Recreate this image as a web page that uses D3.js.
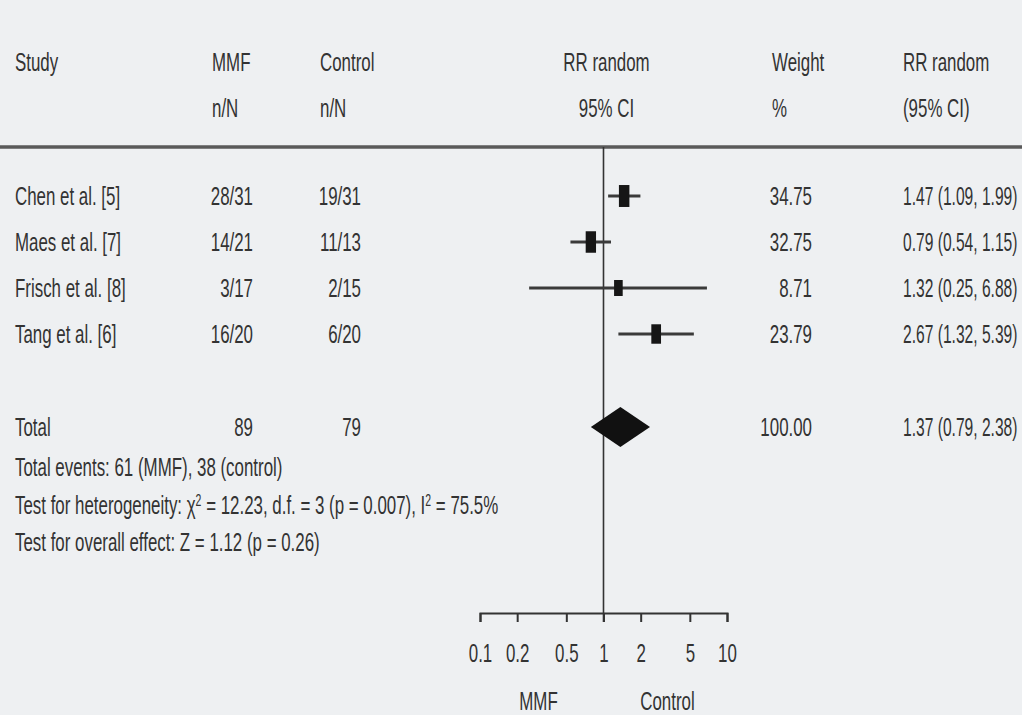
<!DOCTYPE html>
<html>
<head>
<meta charset="utf-8">
<script src="https://cdn.jsdelivr.net/npm/d3@7/dist/d3.min.js"></script>
<style>
  html, body { margin: 0; padding: 0; background: #eef0f2; }
  svg { display: block; }
  text { font-family: "Liberation Sans Narrow", "Liberation Sans", Arial, sans-serif; fill: #333; }
</style>
</head>
<body>
<svg id="chart" width="1022" height="715"></svg>
<script>
// ---------------- data ----------------
const studies   = ["Chen et al. [5]", "Maes et al. [7]", "Frisch et al. [8]", "Tang et al. [6]"];
const mmfNN     = ["28/31", "14/21", "3/17", "16/20"];
const controlNN = ["19/31", "11/13", "2/15", "6/20"];
const rr        = [1.47, 0.79, 1.32, 2.67];
const rrLow     = [1.09, 0.54, 0.25, 1.32];
const rrHigh    = [1.99, 1.15, 6.88, 5.39];
const weights   = [34.75, 32.75, 8.71, 23.79];

const totalLabel   = "Total";
const totalMMF     = "89";
const totalControl = "79";
const totalRR      = 1.37;
const totalLow     = 0.79;
const totalHigh    = 2.38;
const totalWeight  = 100.00;

const headers1 = ["Study", "MMF", "Control", "RR random", "Weight", "RR random"];
const headers2 = ["", "n/N", "n/N", "95% CI", "%", "(95% CI)"];

const footnotes = [
  [{t: "Total events: 61 (MMF), 38 (control)"}],
  [{t: "Test for heterogeneity: "}, {t: "\u03C7"}, {t: "2", sup: true}, {t: " = 12.23, d.f. = 3 (p = 0.007), I"}, {t: "2", sup: true}, {t: " = 75.5%"}],
  [{t: "Test for overall effect: Z = 1.12 (p = 0.26)"}]
];

const tickValues = [0.1, 0.2, 0.5, 1, 2, 5, 10];
const tickLabels = ["0.1", "0.2", "0.5", "1", "2", "5", "10"];
const favourLeft = "MMF";
const favourRight = "Control";

// ---------------- layout ----------------
const W = 1022, H = 715;
const FS = 26;        // font size
const SX = 0.65;      // horizontal condensing of the typeface
const SX_RR = 0.6;    // tighter for the right-hand CI column
const svg = d3.select("#chart");

const x = d3.scaleLog().domain([0.1, 10]).range([480, 727]);
const y = d3.scalePoint().domain(studies).range([196, 334]);
const yTotal = 427;
const yAxis = 613;

const col = { study: 15, mmf: 253, control: 361, weight: 812, rr: 903, mmfHead: 212, controlHead: 320, weightHead: 772 };

const boxH = d3.scaleLinear().domain([0, 35]).range([14, 22]);
const boxW = d3.scaleLinear().domain([0, 35]).range([8, 10.5]);

function txt(g, px, py, s, anchor, sx) {
  return g.append("text")
    .attr("transform", `translate(${px},${py}) scale(${sx || SX},1)`)
    .attr("text-anchor", anchor || "start")
    .attr("dy", "0.36em")
    .style("font-size", FS + "px")
    .text(s);
}

const fmt2 = d3.format(".2f");

// header
const hx = [col.study, col.mmfHead, col.controlHead, x(1) + 3, col.weightHead, col.rr];
const ha = ["start", "start", "start", "middle", "start", "start"];
headers1.forEach((h, i) => txt(svg, hx[i], 62, h, ha[i]));
headers2.forEach((h, i) => { if (h) txt(svg, hx[i], 108, h, ha[i]); });

svg.append("line")
  .attr("x1", 0).attr("x2", W).attr("y1", 147).attr("y2", 147)
  .attr("stroke", "#5a5a5a").attr("stroke-width", 3.5);

// vertical line of no effect
svg.append("line")
  .attr("x1", x(1)).attr("x2", x(1)).attr("y1", 147).attr("y2", yAxis + 9)
  .attr("stroke", "#333").attr("stroke-width", 1.6);

// study rows
const rows = svg.append("g");
studies.forEach((s, i) => {
  const yy = y(s);
  txt(rows, col.study, yy, s, "start");
  txt(rows, col.mmf, yy, mmfNN[i], "end");
  txt(rows, col.control, yy, controlNN[i], "end");
  txt(rows, col.weight, yy, fmt2(weights[i]), "end");
  txt(rows, col.rr, yy, `${fmt2(rr[i])} (${fmt2(rrLow[i])}, ${fmt2(rrHigh[i])})`, "start", SX_RR);

  rows.append("line")
    .attr("x1", x(rrLow[i])).attr("x2", x(rrHigh[i]))
    .attr("y1", yy).attr("y2", yy)
    .attr("stroke", "#3a3a3a").attr("stroke-width", 3);
  const bw = boxW(weights[i]), bh = boxH(weights[i]);
  rows.append("rect")
    .attr("x", x(rr[i]) - bw / 2).attr("y", yy - bh / 2)
    .attr("width", bw).attr("height", bh)
    .attr("fill", "#161616");
});

// total row
txt(svg, col.study, yTotal, totalLabel, "start");
txt(svg, col.mmf, yTotal, totalMMF, "end");
txt(svg, col.control, yTotal, totalControl, "end");
txt(svg, col.weight, yTotal, fmt2(totalWeight), "end");
txt(svg, col.rr, yTotal, `${fmt2(totalRR)} (${fmt2(totalLow)}, ${fmt2(totalHigh)})`, "start", SX_RR);

const dh = 20;
svg.append("path")
  .attr("d", d3.line()([
    [x(totalLow), yTotal], [x(totalRR), yTotal - dh],
    [x(totalHigh), yTotal], [x(totalRR), yTotal + dh]
  ]) + "Z")
  .attr("fill", "#111");

// footnotes
const fy = [467, 505, 542];
footnotes.forEach((parts, i) => {
  const t = svg.append("text")
    .attr("transform", `translate(${col.study},${fy[i]}) scale(${SX},1)`)
    .attr("dy", "0.36em")
    .style("font-size", FS + "px");
  parts.forEach(p => {
    const ts = t.append("tspan").text(p.t);
    if (p.sup) ts.attr("baseline-shift", "super").style("font-size", (FS * 0.62) + "px");
  });
});

// axis
const axis = d3.axisBottom(x)
  .tickValues(tickValues)
  .tickFormat((d, i) => tickLabels[i])
  .tickSizeOuter(0)
  .tickSize(9);
const ag = svg.append("g").attr("transform", `translate(0,${yAxis})`).call(axis);
ag.select(".domain").attr("stroke", "#333").attr("stroke-width", 2);
ag.selectAll(".tick line").attr("stroke", "#333").attr("stroke-width", 2);
ag.selectAll(".tick text")
  .attr("y", 40).attr("dy", "0.36em")
  .attr("transform", `scale(${SX},1)`)
  .style("font-size", FS + "px")
  .style("font-family", '"Liberation Sans Narrow", "Liberation Sans", Arial, sans-serif')
  .attr("fill", "#333");

txt(svg, x(1) - 65, 701, favourLeft, "middle");
txt(svg, x(1) + 64, 701, favourRight, "middle");
</script>
</body>
</html>
